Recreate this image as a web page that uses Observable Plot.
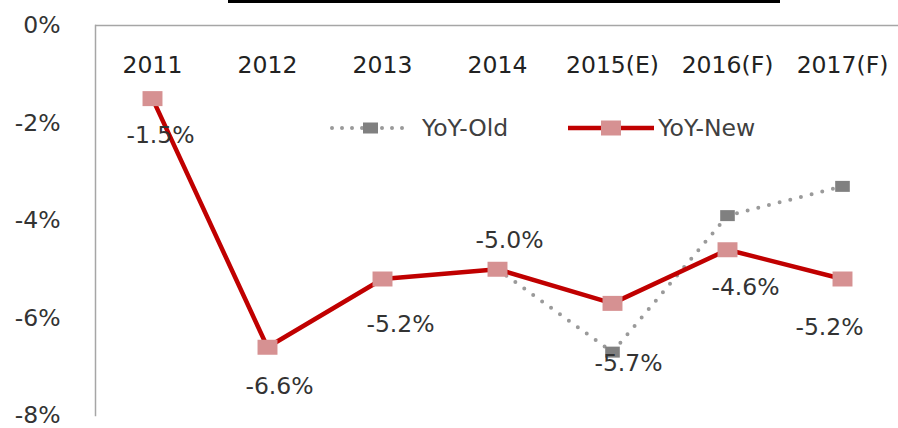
<!DOCTYPE html>
<html>
<head>
<meta charset="utf-8">
<script src="https://cdn.jsdelivr.net/npm/d3@7"></script>
<script src="https://cdn.jsdelivr.net/npm/@observablehq/plot@0.6"></script>
<style>
  html, body { margin: 0; padding: 0; background: #fff; }
  #wrap { position: relative; width: 898px; height: 428px; overflow: hidden; font-family: "DejaVu Sans", sans-serif; }
  #topline { position: absolute; left: 228px; top: 0; width: 552px; height: 3px; background: #000; }
  #legend { position: absolute; left: 328px; top: 113px; display: flex; align-items: center; font-size: 23.5px; color: #404040; }
  #legend .item { display: flex; align-items: center; }
  #legend svg { display: block; }
</style>
</head>
<body>
<div id="wrap">
  <div id="chart"></div>
  <div id="topline"></div>
  <div id="legend"></div>
</div>
<script>
const categories = ["2011", "2012", "2013", "2014", "2015(E)", "2016(F)", "2017(F)"];
const yoyNew = [-1.5, -6.6, -5.2, -5.0, -5.7, -4.6, -5.2];
const yoyOld = [null, null, null, -5.0, -6.7, -3.9, -3.3];
const yTicks = [0, -2, -4, -6, -8];
const seriesNames = ["YoY-Old", "YoY-New"];

// label placement offsets (layout only)
const labelDx = [8, 12, 18, 12, 16, 18, -13];
const labelDy = [37, 39, 45, -29, 60, 38, 48];

const newData = categories.map((c, i) => ({cat: c, v: yoyNew[i], i}));
const oldData = categories.map((c, i) => ({cat: c, v: yoyOld[i]})).filter(d => d.v != null);

const RED = "#C00000";
const PINK = "#D69192";
const GRAY_LINE = "#9A9A9A";
const GRAY_MARK = "#808080";

const rectSymbol = {
  draw(ctx, size) {
    const h = Math.sqrt(size / Math.PI);
    const w = h * 1.33;
    ctx.rect(-w, -h, 2 * w, 2 * h);
  }
};

const labelMarks = newData.map((d, i) =>
  Plot.text([d], {
    x: "cat", y: "v",
    text: d => d.v.toFixed(1) + "%",
    dx: labelDx[i], dy: labelDy[i],
    fontSize: 23.5, fill: "#333"
  })
);

const chart = Plot.plot({
  width: 898,
  height: 428,
  marginLeft: 95,
  marginRight: 0,
  marginTop: 25,
  marginBottom: 13,
  style: {fontFamily: "DejaVu Sans, sans-serif", background: "#fff"},
  x: {type: "point", domain: categories, padding: 0.471, align: 0.5, axis: null},
  y: {domain: [-8, 0], label: null, axis: null},
  marks: [
    Plot.axisY({ticks: yTicks, tickSize: 0, tickPadding: 35, fontSize: 23.5, fill: "#333",
      tickFormat: d => (d === 0 ? "0" : String(d)) + "%"}),
    Plot.frame({anchor: "left", stroke: "#A6A6A6", strokeWidth: 1.5, strokeOpacity: 1}),
    Plot.ruleY([0], {stroke: "#A6A6A6", strokeWidth: 1.5}),
    Plot.text(categories, {x: d => d, frameAnchor: "top", dy: 31, fontSize: 23.5, fill: "#222"}),
    Plot.line(oldData, {x: "cat", y: "v", stroke: GRAY_LINE, strokeWidth: 4, strokeDasharray: "0 11", strokeLinecap: "round"}),
    Plot.dot(oldData, {x: "cat", y: "v", symbol: rectSymbol, r: 5.5, fill: GRAY_MARK, stroke: null}),
    Plot.line(newData, {x: "cat", y: "v", stroke: RED, strokeWidth: 4.5}),
    Plot.dot(newData, {x: "cat", y: "v", symbol: rectSymbol, r: 7.5, fill: PINK, stroke: null}),
    ...labelMarks
  ]
});
document.getElementById("chart").appendChild(chart);

// legend
const legend = document.getElementById("legend");
legend.innerHTML = `
  <div class="item">
    <svg width="90" height="30">
      <line x1="4" y1="15" x2="84" y2="15" stroke="${GRAY_LINE}" stroke-width="4" stroke-dasharray="0 10" stroke-linecap="round"/>
      <rect x="35" y="9.5" width="15" height="11" fill="${GRAY_MARK}"/>
    </svg>
    <span style="margin-left:4px">${seriesNames[0]}</span>
  </div>
  <div class="item" style="margin-left:58px">
    <svg width="90" height="30">
      <line x1="2" y1="15" x2="88" y2="15" stroke="${RED}" stroke-width="4.5"/>
      <rect x="35" y="7.5" width="20" height="15" fill="${PINK}"/>
    </svg>
    <span style="margin-left:2px">${seriesNames[1]}</span>
  </div>`;
</script>
</body>
</html>
